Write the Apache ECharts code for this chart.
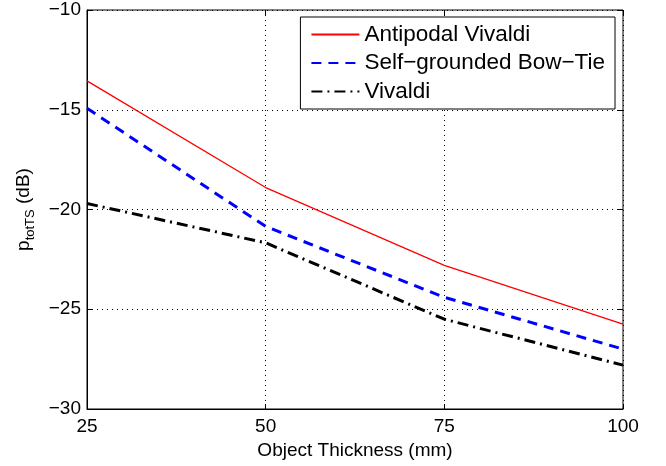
<!DOCTYPE html>
<html><head><meta charset="utf-8">
<script src="https://cdn.jsdelivr.net/npm/echarts@6/dist/echarts.min.js"></script>
<style>html,body{margin:0;padding:0;background:#fff}#c{width:666px;height:466px}</style>
</head><body><div id="c"></div>
<script>
var thickness = [25, 50, 75, 100];
var antipodalVivaldi = [-13.55, -18.9, -22.8, -25.75];
var bowTie = [-14.93, -20.85, -24.4, -27.0];
var vivaldi = [-19.7, -21.67, -25.5, -27.8];
var seriesNames = ['Antipodal Vivaldi', 'Self\u2212grounded Bow\u2212Tie', 'Vivaldi'];

var FONT = 'Liberation Sans, Arial, sans-serif';
function pairs(v){ return thickness.map(function(x,i){return [x,v[i]];}); }
var tick = {inside: true, length: 5, lineStyle: {color: '#000'}};
var chart = echarts.init(document.getElementById('c'));
chart.setOption({
  animation: false,
  textStyle: {fontFamily: FONT},
  grid: {left: 87, right: 43, top: 10, bottom: 57, show: true, borderColor: '#000', borderWidth: 1, backgroundColor: '#fff'},
  legend: {
    right: 51, top: 17, orient: 'vertical', itemGap: 5.5, itemWidth: 48, itemHeight: 14,
    backgroundColor: '#fff', borderColor: '#000', borderWidth: 1,
    padding: [6, 10, 6, 10],
    itemStyle: {opacity: 0},
    textStyle: {fontSize: 22.5, lineHeight: 22, color: '#000', fontFamily: FONT},
    data: seriesNames
  },
  xAxis: [{
    type: 'value', min: 25, max: 100, interval: 25,
    name: 'Object Thickness (mm)', nameLocation: 'middle', nameGap: 28,
    nameTextStyle: {fontSize: 19, color: '#000'},
    axisLine: {lineStyle: {color: '#000'}},
    axisTick: tick,
    axisLabel: {fontSize: 19, color: '#000', margin: 8},
    splitLine: {show: true, lineStyle: {color: '#000', type: [1, 4], width: 1}}
  }, {
    type: 'value', position: 'top', min: 25, max: 100, interval: 25,
    axisLine: {show: false}, axisTick: tick, axisLabel: {show: false}, splitLine: {show: false}
  }],
  yAxis: [{
    type: 'value', min: -30, max: -10, interval: 5,
    name: '{m|p}{s|totTS}{m| (dB)}', nameLocation: 'middle', nameGap: 50,
    nameTextStyle: {rich: {m: {fontSize: 19, color: '#000', fontFamily: FONT}, s: {fontSize: 13, color: '#000', fontFamily: FONT, padding: [13, 0, 0, 0]}}},
    axisLine: {lineStyle: {color: '#000'}},
    axisTick: tick,
    axisLabel: {fontSize: 19, color: '#000', margin: 6, formatter: function(v){return String(v).replace('-', '\u2212');}},
    splitLine: {show: true, lineStyle: {color: '#000', type: [1, 4], width: 1}}
  }, {
    type: 'value', position: 'right', min: -30, max: -10, interval: 5,
    axisLine: {show: false}, axisTick: tick, axisLabel: {show: false}, splitLine: {show: false}
  }],
  series: [
    {name: seriesNames[0], type: 'line', data: pairs(antipodalVivaldi), symbol: 'none', color: '#ff0000', lineStyle: {color: '#ff0000', width: 1.3}},
    {name: seriesNames[1], type: 'line', data: pairs(bowTie), symbol: 'none', color: '#0000ff', lineStyle: {color: '#0000ff', width: 3, type: [10, 7]}},
    {name: seriesNames[2], type: 'line', data: pairs(vivaldi), symbol: 'none', color: '#000', lineStyle: {color: '#000', width: 3, type: [11, 5, 2, 5]}}
  ]
});
</script></body></html>
